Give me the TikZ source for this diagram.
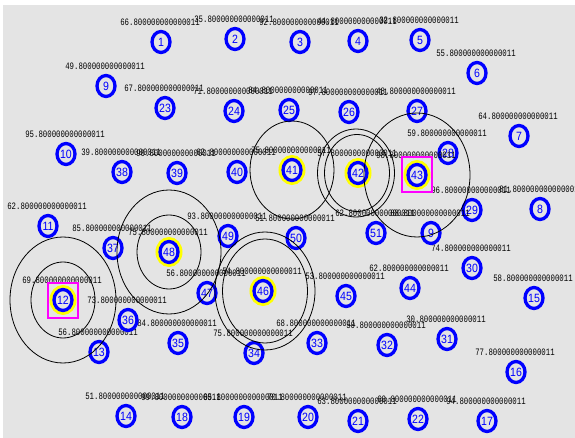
\documentclass[tikz,border=0pt]{standalone}
\usepackage{fontspec}
\usetikzlibrary{shapes.geometric}
\newfontfamily\lblfont[FakeStretch=0.75]{Liberation Mono}
\newfontfamily\numfont[FakeStretch=0.88]{Liberation Sans}
\definecolor{bg}{RGB}{228,228,228}
\definecolor{nodeblue}{RGB}{0,0,255}
\definecolor{selcol}{RGB}{255,0,255}
\definecolor{halocol}{RGB}{255,255,0}
\begin{document}
\begin{tikzpicture}[x=1pt,y=-1pt,
  sensor/.style={ellipse, draw=nodeblue, line width=3.3pt, minimum width=18pt, minimum height=21pt, inner sep=0pt, text=nodeblue, font=\numfont\fontsize{12}{12}\selectfont},
  halo/.style={ellipse, draw=halocol, line width=3pt, minimum width=24pt, minimum height=27pt, inner sep=0pt},
  lbl/.style={inner sep=0pt, font=\lblfont\fontsize{9.8}{9.8}\selectfont},
  rangering/.style={draw=black, line width=0.8pt},
  pick/.style={draw=selcol, line width=2pt, minimum width=30pt, minimum height=35pt, inner sep=0pt}]
\useasboundingbox (0,0) rectangle (575,438);
\fill[white] (0,0) rectangle (575,438);
\fill[bg] (3,5) rectangle (575,438);
% halos of the chosen nodes
\foreach \id/\x/\y in {12/63/300,41/292/170,42/358/173,43/417/175,46/263/291,48/169/252}
  \node[halo] (h\id) at (\x,\y) {};
% sensor nodes
\foreach \id/\t/\x/\y/\v in {
 1/1/161/42/66, 2/2/235/39/35, 3/3/300/42/92, 4/4/358/41/44, 5/5/420/40/32,
 6/6/477/73/55, 7/7/519/136/64, 9/9/106/86/49, 10/10/66/154/95, 11/11/48/226/62,
 12/12/63/300/69, 13/13/99/352/56, 14/14/126/416/51, 15/15/534/298/58, 16/16/516/372/77,
 17/17/487/421/94, 18/18/182/417/99, 19/19/244/417/65, 20/20/308/417/70, 21/21/358/421/63,
 22/22/418/419/60, 23/23/165/108/67, 24/24/234/111/71, 25/25/289/110/84, 26/26/349/112/97,
 27/27/417/111/48, 28/28/448/153/59, 29/29/472/210/96, 30/30/472/268/74, 31/31/447/339/30,
 32/32/387/345/50, 33/33/317/343/68, 34/34/254/353/75, 35/35/178/343/84, 36/36/128/320/73,
 37/37/113/248/85, 38/38/122/172/39, 39/39/177/173/90, 40/40/237/172/62, 41/41/292/170/75,
 42/42/358/173/57, 43/43/417/175/98, 44/44/410/288/62, 45/45/346/296/53, 46/46/263/291/54,
 47/47/207/293/56, 48/48/169/252/75, 49/49/228/236/93, 50/50/296/238/51, 51/51/376/233/62,
 9b/9/431/233/88}
{
  \node[sensor] (n\id) at (\x,\y) {\t};
  \node[lbl] (l\id) at (\x-1,\y-20) {\v.800000000000011};
}
\node[sensor] (n8) at (540,209) {8};
\node[lbl] (l8) at (539,189) {81.800000000000001};
% range circles
\draw[rangering] (n12.center) ellipse [x radius=32pt, y radius=38pt];
\draw[rangering] (n12.center) ellipse [x radius=53pt, y radius=63pt];
\draw[rangering] (n48.center) ellipse [x radius=32pt, y radius=37pt];
\draw[rangering] (n48.center) ellipse [x radius=52pt, y radius=62pt];
\draw[rangering] ([xshift=2pt]n46.center) ellipse [x radius=42.5pt, y radius=52pt];
\draw[rangering] ([xshift=2pt]n46.center) ellipse [x radius=50pt, y radius=59pt];
\draw[rangering] (n41.center) ellipse [x radius=42pt, y radius=49pt];
\draw[rangering] ([xshift=-1pt]n42.center) ellipse [x radius=32.5pt, y radius=38.5pt];
\draw[rangering] ([xshift=-2pt]n42.center) ellipse [x radius=38.5pt, y radius=44pt];
\draw[rangering] (n43.center) ellipse [x radius=53pt, y radius=62pt];
% selection squares
\node[pick] (s12) at (n12) {};
\node[pick] (s43) at (n43) {};
\end{tikzpicture}
\end{document}
